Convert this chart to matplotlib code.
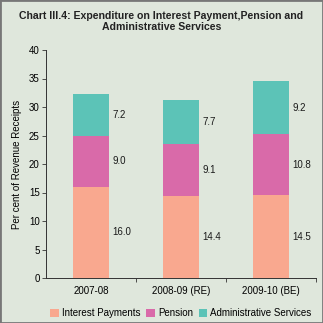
import matplotlib.pyplot as plt
from matplotlib.patches import Rectangle

years = ["2007-08", "2008-09 (RE)", "2009-10 (BE)"]
interest = [16.0, 14.4, 14.5]
pension = [9.0, 9.1, 10.8]
admin = [7.2, 7.7, 9.2]

bg = "#dfe7dc"
c_int = "#f9a88f"
c_pen = "#d96aa9"
c_adm = "#5cc3b7"

plt.rcParams['font.family'] = ['Liberation Sans', 'DejaVu Sans']

fig = plt.figure(figsize=(3.23, 3.23), dpi=100, facecolor=bg)
ax = fig.add_axes([46/323, 45/323, 270/323, 228/323], facecolor=bg)

x = list(range(len(years)))
w = 0.41
b2 = interest
b3 = [i + p for i, p in zip(interest, pension)]
ax.bar(x, interest, w, color=c_int, label="Interest Payments")
ax.bar(x, pension, w, bottom=b2, color=c_pen, label="Pension")
ax.bar(x, admin, w, bottom=b3, color=c_adm, label="Administrative Services")

# value labels beside each segment
for i in x:
    for bot, val in [(0, interest[i]), (b2[i], pension[i]), (b3[i], admin[i])]:
        ax.text(i + w/2 + 0.035, bot + val/2, "%.1f" % val, ha="left", va="center",
                fontsize=7, color="#1a1a1a")

ax.set_xlim(-0.5, 2.5)
ax.set_ylim(0, 40)
ax.set_yticks(range(0, 41, 5))
ax.set_xticks(x)
ax.set_xticklabels(years)
ax.set_xticks([0.5, 1.5, 2.5], minor=True)
ax.tick_params(axis="x", which="major", length=0, labelsize=7, pad=6)
ax.tick_params(axis="x", which="minor", length=3, width=0.6, color="#333333")
ax.tick_params(axis="y", length=3, width=0.6, labelsize=7, pad=1.5, color="#333333")
for s in ["top", "right"]:
    ax.spines[s].set_visible(False)
for s in ["left", "bottom"]:
    ax.spines[s].set_linewidth(0.7)
    ax.spines[s].set_color("#333333")
ax.set_ylabel("Per cent of Revenue Receipts", fontsize=7, labelpad=5)

fig.legend(loc="center", bbox_to_anchor=(0.56, 10/323), ncol=3, frameon=False,
           fontsize=7, handlelength=0.9, handleheight=0.9, handletextpad=0.3,
           columnspacing=0.6)

fig.text(0.5, 0.965, "Chart III.4: Expenditure on Interest Payment,Pension and\nAdministrative Services",
         ha="center", va="top", fontsize=7.6, fontweight="bold", color="#222222",
         linespacing=1.05)

fig.patches.append(Rectangle((0, 0), 1, 1, transform=fig.transFigure, fill=False,
                             edgecolor="#777777", linewidth=2))

fig.savefig("out.png", dpi=100, facecolor=bg)
